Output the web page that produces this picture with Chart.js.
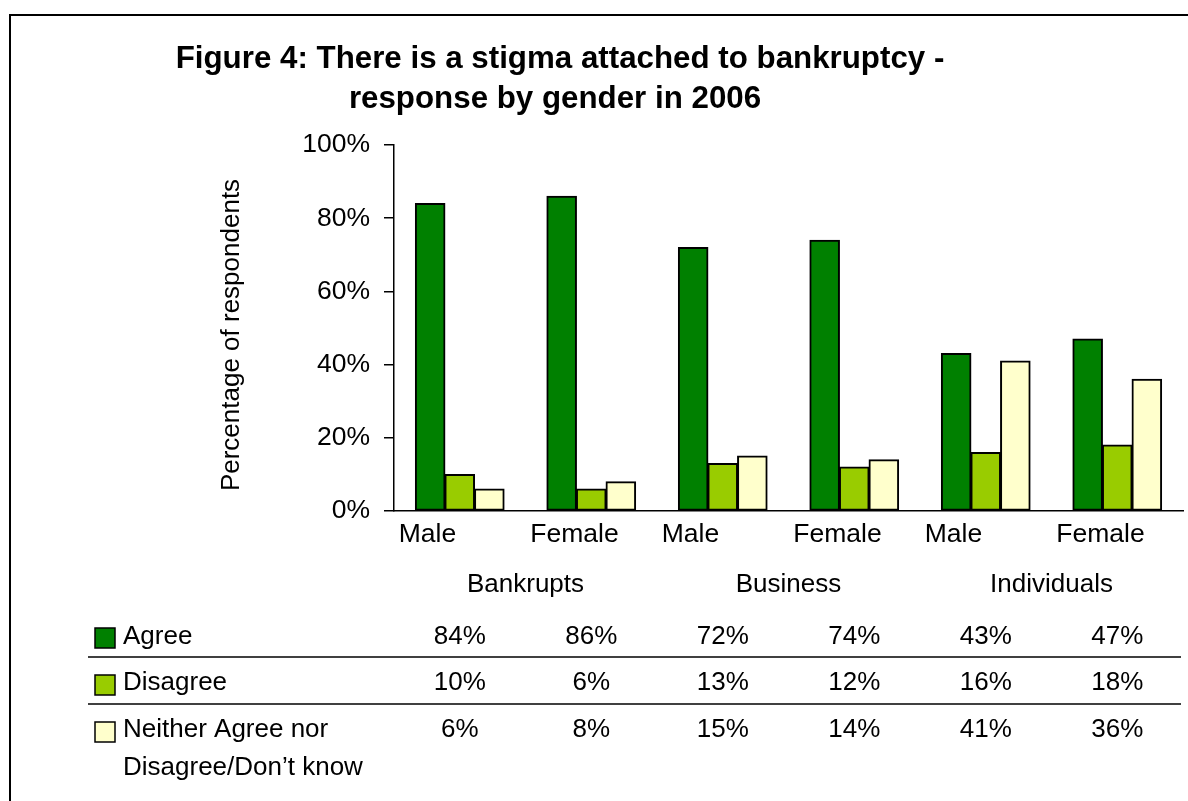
<!DOCTYPE html>
<html>
<head>
<meta charset="utf-8">
<title>Stigma attached to bankruptcy by gender, 2006</title>
<script src="https://cdn.jsdelivr.net/npm/chart.js@4/dist/chart.umd.min.js"></script>
<style>
  html, body { margin: 0; padding: 0; background: #fff; }
  canvas { display: block; }
</style>
</head>
<body>
<canvas id="grafico" width="1188" height="801"></canvas>
<script>
// categorias e grupos
const categorias = ['Male', 'Female', 'Male', 'Female', 'Male', 'Female'];
const grupos = ['Bankrupts', 'Business', 'Individuals'];

// respostas (%)
const agree = [84, 86, 72, 74, 43, 47];
const disagree = [10, 6, 13, 12, 16, 18];
const neither = [6, 8, 15, 14, 41, 36];

const yTicks = [0, 20, 40, 60, 80, 100];

const FONTE = "'Liberation Sans', Arial, Helvetica, sans-serif";

const series = [
  { nome: ['Agree'], dados: agree, cor: '#008000' },
  { nome: ['Disagree'], dados: disagree, cor: '#99CC00' },
  { nome: ['Neither Agree nor', 'Disagree/Don\u2019t know'], dados: neither, cor: '#FFFFCC' }
];

// titulo, rotulo do eixo y e a tabela de dados embaixo do grafico
const extras = {
  id: 'extras',
  afterDraw(chart) {
    const ctx = chart.ctx;
    const x = chart.scales.x;
    ctx.save();

    // moldura
    ctx.strokeStyle = '#000';
    ctx.lineWidth = 2;
    ctx.beginPath();
    ctx.moveTo(10, 801);
    ctx.lineTo(10, 15);
    ctx.lineTo(1188, 15);
    ctx.stroke();

    ctx.fillStyle = '#000';
    ctx.textAlign = 'center';
    ctx.textBaseline = 'alphabetic';
    ctx.font = 'bold 31.3px ' + FONTE;
    ctx.fillText('Figure 4: There is a stigma attached to bankruptcy -', 560, 68);
    ctx.fillText('response by gender in 2006', 555, 108);

    ctx.font = '26px ' + FONTE;
    ctx.save();
    ctx.translate(239, 335);
    ctx.rotate(-Math.PI / 2);
    ctx.fillText('Percentage of respondents', 0, 0);
    ctx.restore();

    // nomes dos grupos, entre cada par de colunas
    grupos.forEach((g, i) => {
      const cx = (x.getPixelForValue(i * 2) + x.getPixelForValue(i * 2 + 1)) / 2;
      ctx.fillText(g, cx, 592);
    });

    // linhas da tabela
    const linhas = [644, 690, 737];
    const caixas = [628, 675, 722];
    series.forEach((s, r) => {
      ctx.fillStyle = s.cor;
      ctx.fillRect(95, caixas[r], 20, 20);
      ctx.strokeStyle = '#000';
      ctx.lineWidth = 1.5;
      ctx.strokeRect(95, caixas[r], 20, 20);

      ctx.fillStyle = '#000';
      ctx.textAlign = 'left';
      s.nome.forEach((t, k) => ctx.fillText(t, 123, linhas[r] + k * 38));

      ctx.textAlign = 'center';
      s.dados.forEach((v, i) => {
        ctx.fillText(v + '%', x.getPixelForValue(i), linhas[r]);
      });
    });

    ctx.strokeStyle = '#000';
    ctx.lineWidth = 1.5;
    [657, 704].forEach(y => {
      ctx.beginPath();
      ctx.moveTo(88, y);
      ctx.lineTo(1181, y);
      ctx.stroke();
    });

    ctx.restore();
  }
};

new Chart(document.getElementById('grafico'), {
  type: 'bar',
  data: {
    labels: categorias,
    datasets: series.map(s => ({
      label: s.nome.join(' '),
      data: s.dados,
      backgroundColor: s.cor,
      borderColor: '#000',
      borderWidth: 2,
      borderSkipped: false,
      inflateAmount: 0.5,
      categoryPercentage: 0.675,
      barPercentage: 1
    }))
  },
  options: {
    responsive: false,
    animation: false,
    layout: { padding: { top: 145, right: 5, bottom: 240, left: 0 } },
    plugins: {
      legend: { display: false },
      tooltip: { enabled: false }
    },
    scales: {
      x: {
        grid: { display: false, drawTicks: false },
        border: { display: true, color: '#000', width: 1.5 },
        ticks: {
          color: '#000',
          font: { family: FONTE, size: 26.5 },
          align: 'start',
          labelOffset: -61,
          padding: 8,
          maxRotation: 0,
          autoSkip: false
        },
        afterFit(scale) {
          scale.height = 50;
          // sem folga extra nas pontas do eixo
          scale.paddingLeft = 0;
          scale.paddingRight = 0;
        }
      },
      y: {
        min: 0,
        max: 100,
        afterBuildTicks(scale) { scale.ticks = yTicks.map(v => ({ value: v })); },
        grid: { drawOnChartArea: false, drawTicks: true, tickLength: 10, color: '#000', lineWidth: 1.5 },
        border: { display: true, color: '#000', width: 1.5 },
        ticks: {
          color: '#000',
          font: { family: FONTE, size: 26.5 },
          padding: 14,
          callback: v => v + '%'
        },
        afterFit(scale) { scale.width = 394; }
      }
    }
  },
  plugins: [extras]
});
</script>
</body>
</html>
